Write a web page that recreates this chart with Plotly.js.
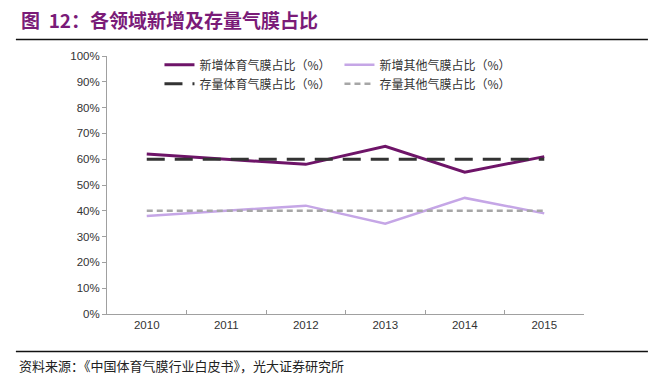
<!DOCTYPE html>
<html>
<head>
<meta charset="utf-8">
<script src="https://cdn.plot.ly/plotly-3.0.1.min.js"></script>
<style>html,body{margin:0;padding:0;background:#fff;}#chart{width:662px;height:380px;}</style>
</head>
<body>
<div id="chart"></div>
<script>
const years = ['2010','2011','2012','2013','2014','2015'];
const newSports = [62, 60, 58, 65, 55, 61];
const newOther = [38, 40, 42, 35, 45, 39];
const stockSports = [60, 60, 60, 60, 60, 60];
const stockOther = [40, 40, 40, 40, 40, 40];
const seriesNames = ['新增体育气膜占比（%）','新增其他气膜占比（%）','存量体育气膜占比（%）','存量其他气膜占比（%）'];
const yTickVals = [0,10,20,30,40,50,60,70,80,90,100];
const yTickText = yTickVals.map(v => v + '%');

const traces = [
  {x: years, y: newSports, name: seriesNames[0], mode: 'lines', line: {color: '#6E1468', width: 3}},
  {x: years, y: newOther, name: seriesNames[1], mode: 'lines', line: {color: '#C5A6E6', width: 2.5}},
  {x: years, y: stockSports, name: seriesNames[2], mode: 'lines', line: {color: '#333333', width: 3, dash: '18px,10px'}},
  {x: years, y: stockOther, name: seriesNames[3], mode: 'lines', line: {color: '#A6A6A6', width: 2.5, dash: '6px,4px'}}
];

const layout = {
  width: 662, height: 380,
  margin: {l: 107, r: 78, t: 56, b: 66},
  paper_bgcolor: '#fff', plot_bgcolor: '#fff',
  font: {family: 'Liberation Sans, Arial, sans-serif', size: 11.5, color: '#333'},
  showlegend: true,
  legend: {
    orientation: 'h', x: 0.11, xanchor: 'left', y: 1.022, yanchor: 'top',
    entrywidth: 135, entrywidthmode: 'pixels',
    font: {family: 'Noto Sans CJK SC, sans-serif', size: 12, color: '#333'},
    bgcolor: 'rgba(0,0,0,0)', tracegroupgap: 0, traceorder: 'normal'
  },
  xaxis: {
    type: 'category', range: [-0.5, 5.5],
    showline: true, linecolor: '#A0A0A0', linewidth: 1,
    ticks: 'inside', tickson: 'boundaries', ticklen: 4, tickcolor: '#A0A0A0',
    showgrid: false, zeroline: false, fixedrange: true,
    tickfont: {size: 11.5, color: '#333'}
  },
  yaxis: {
    range: [0, 100], tickvals: yTickVals, ticktext: yTickText,
    showline: true, linecolor: '#A0A0A0', linewidth: 1,
    ticks: 'outside', ticklen: 4, tickcolor: '#A0A0A0',
    showgrid: false, zeroline: false, fixedrange: true,
    tickfont: {size: 11.5, color: '#333'}
  },
  shapes: [
    {type: 'line', xref: 'paper', yref: 'paper', x0: -0.191, x1: 1.134, y0: 1.064, y1: 1.064, line: {color: '#111', width: 1.5}},
    {type: 'line', xref: 'paper', yref: 'paper', x0: -0.191, x1: 1.134, y0: -0.145, y1: -0.145, line: {color: '#111', width: 1.5}}
  ],
  annotations: [
    {xref: 'paper', yref: 'paper', x: -0.185, y: 1.14, xanchor: 'left', yanchor: 'middle', showarrow: false,
     text: '<b>图  12：各领域新增及存量气膜占比</b>', font: {family: 'Noto Sans CJK SC, sans-serif', size: 19, color: '#7A1B78'}},
    {xref: 'paper', yref: 'paper', x: -0.189, y: -0.198, xanchor: 'left', yanchor: 'middle', showarrow: false,
     text: '资料来源：《中国体育气膜行业白皮书》，光大证券研究所', font: {family: 'Noto Sans CJK SC, sans-serif', size: 13, color: '#222'}}
  ]
};

Plotly.newPlot('chart', traces, layout, {displayModeBar: false, staticPlot: true});
</script>
</body>
</html>
